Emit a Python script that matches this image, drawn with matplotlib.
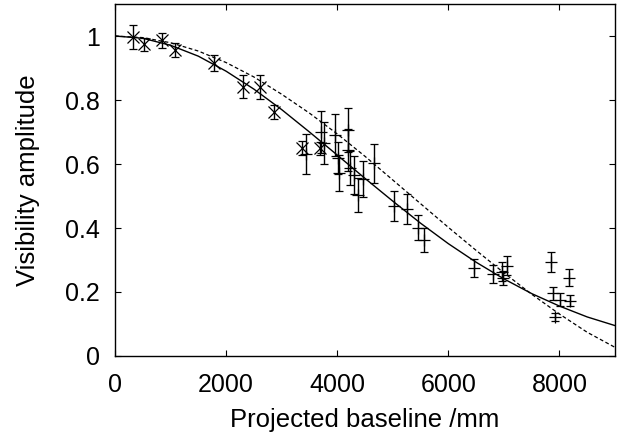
import matplotlib
matplotlib.use("Agg")
import matplotlib.pyplot as plt

plt.rcParams['font.family'] = ['Liberation Sans', 'DejaVu Sans']

# short baselines (drawn with x markers)
x_short = [329, 520, 838, 1075, 1785, 2295, 2605, 2860, 3370, 3690]
v_short = [0.996, 0.974, 0.987, 0.957, 0.915, 0.841, 0.841, 0.762, 0.650, 0.649]
e_short = [0.037, 0.021, 0.023, 0.022, 0.025, 0.036, 0.038, 0.021, 0.022, 0.021]

# long baselines (drawn with + markers)
x_long = [3440, 3715, 3770, 3966, 4020, 4030, 4185, 4200, 4222, 4308, 4365, 4460,
          4660, 5030, 5250, 5460, 5555, 6455, 6805, 6960, 6985, 7050, 7840, 7885,
          7920, 8010, 8180, 8185]
v_long = [0.632, 0.700, 0.665, 0.690, 0.618, 0.572, 0.706, 0.644, 0.587, 0.566,
          0.502, 0.553, 0.602, 0.470, 0.459, 0.401, 0.363, 0.276, 0.257, 0.263,
          0.243, 0.282, 0.294, 0.196, 0.122, 0.176, 0.245, 0.173]
e_long = [0.063, 0.066, 0.065, 0.066, 0.050, 0.056, 0.068, 0.065, 0.053, 0.060,
          0.053, 0.055, 0.060, 0.047, 0.047, 0.040, 0.038, 0.028, 0.028, 0.030,
          0.022, 0.030, 0.030, 0.020, 0.013, 0.020, 0.027, 0.017]

# model curves
x_model = [0, 500, 1000, 1500, 2000, 2500, 3000, 3500, 4000, 4500,
           5000, 5500, 6000, 6500, 7000, 7500, 8000, 8500, 9000]
v_gauss = [1.0, 0.993, 0.971, 0.937, 0.890, 0.834, 0.770, 0.700, 0.628, 0.555,
           0.484, 0.415, 0.351, 0.293, 0.241, 0.195, 0.156, 0.122, 0.095]
v_disk = [1.0, 0.995, 0.979, 0.953, 0.917, 0.872, 0.818, 0.759, 0.694, 0.624,
          0.550, 0.476, 0.402, 0.330, 0.260, 0.193, 0.131, 0.074, 0.027]

fig = plt.figure(figsize=(6.23, 4.36), dpi=100)
ax = fig.add_axes([0.1846, 0.1835, 0.8026, 0.8073])

ax.plot(x_model, v_gauss, color='black', lw=1.0)
ax.plot(x_model, v_disk, color='black', lw=0.9, linestyle=(0, (3, 2)))

ax.errorbar(x_short, v_short, yerr=e_short, fmt='x', color='black', ms=8,
            mew=0.9, elinewidth=1.0, capsize=2.8, capthick=1.0)
ax.errorbar(x_long, v_long, yerr=e_long, fmt='+', color='black', ms=9,
            mew=0.9, elinewidth=1.0, capsize=2.8, capthick=1.0)

ax.set_xlim(0, 9000)
ax.set_ylim(0, 1.1)
ax.set_xticks([0, 2000, 4000, 6000, 8000])
ax.set_yticks([0, 0.2, 0.4, 0.6, 0.8, 1])
ax.set_yticklabels(['0', '0.2', '0.4', '0.6', '0.8', '1'])
ax.tick_params(direction='in', length=4, width=0.8, top=True, right=True,
               labelsize=18)
ax.tick_params(axis='x', pad=12)
ax.tick_params(axis='y', pad=11)
for s in ax.spines.values():
    s.set_linewidth(1.0)

ax.set_xlabel('Projected baseline /mm', fontsize=18.5, labelpad=8)
ax.set_ylabel('Visibility amplitude', fontsize=18.5, labelpad=18)

fig.savefig('out.png', dpi=100)
